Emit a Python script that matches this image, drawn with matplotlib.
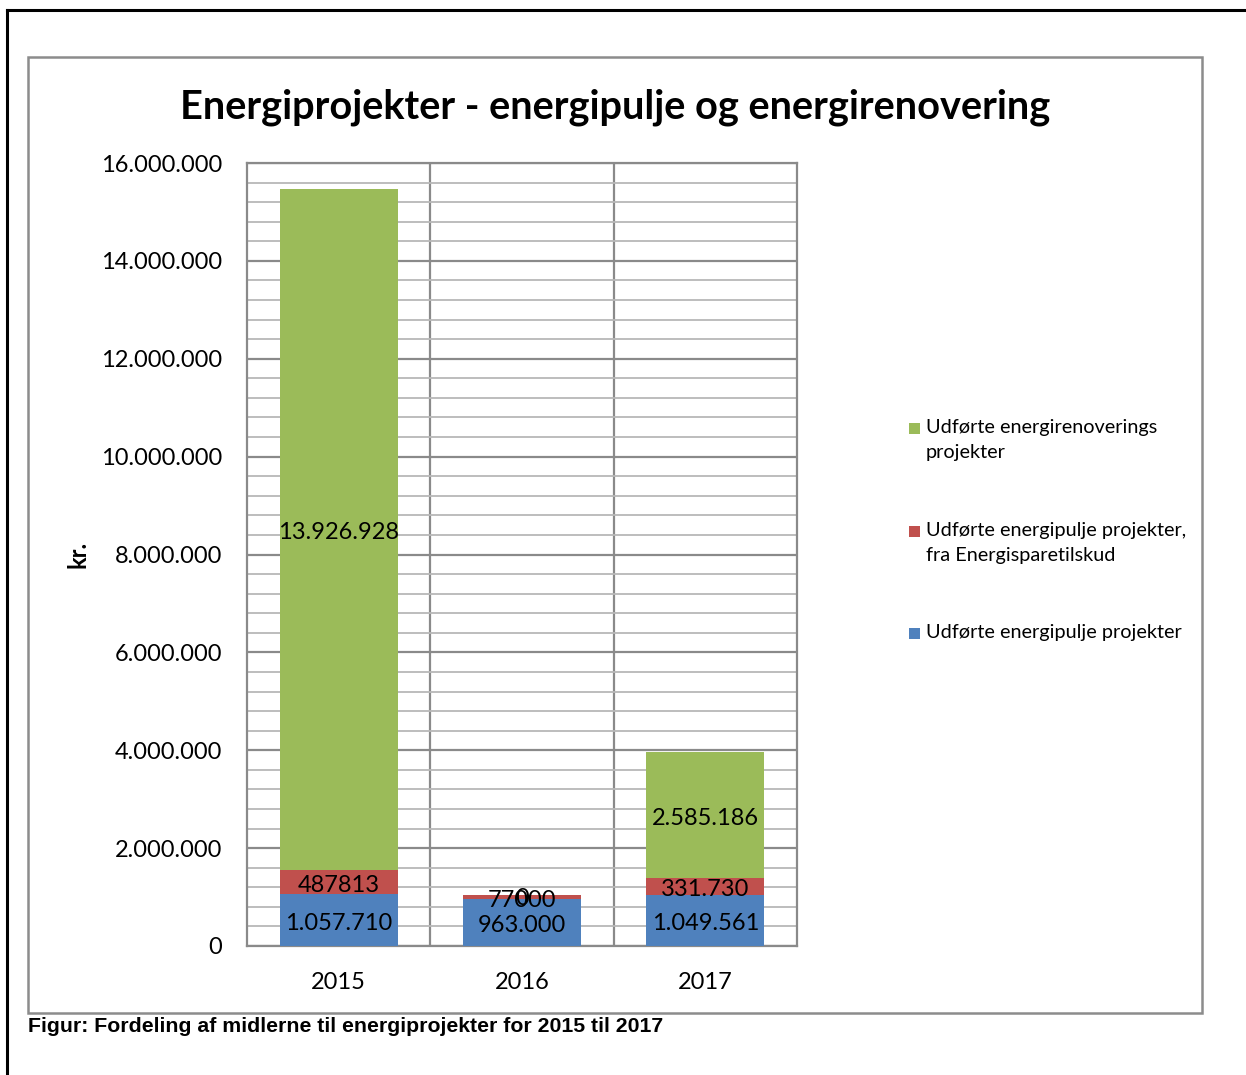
import matplotlib
matplotlib.use("Agg")
import matplotlib.pyplot as plt
from matplotlib.patches import Rectangle
from matplotlib.lines import Line2D
from matplotlib.ticker import MultipleLocator, FuncFormatter

years = ["2015", "2016", "2017"]
energipulje = [1057710, 963000, 1049561]
energisparetilskud = [487813, 77000, 331730]
energirenovering = [13926928, 0, 2585186]
lbl_pulje = ["1.057.710", "963.000", "1.049.561"]
lbl_tilskud = ["487813", "77000", "331.730"]
lbl_renov = ["13.926.928", "0", "2.585.186"]
series_names = ["Udførte energipulje projekter",
                "Udførte energipulje projekter,\nfra Energisparetilskud",
                "Udførte energirenoverings\nprojekter"]
colors = ["#4F81BD", "#C0504D", "#9BBB59"]

FONT = "Lato"
W, H = 1246, 1075
fig = plt.figure(figsize=(W / 100, H / 100), dpi=100)

# outer document lines
fig.add_artist(Line2D([7 / W, 7 / W], [0, 1 - 10 / H], color="black", lw=2.2, transform=fig.transFigure))
fig.add_artist(Line2D([7 / W, 1], [1 - 10 / H, 1 - 10 / H], color="black", lw=2.2, transform=fig.transFigure))
# chart area border
fig.add_artist(Rectangle((28 / W, 1 - 1013 / H), (1202 - 28) / W, (1013 - 57) / H,
                         fill=False, edgecolor="#8c8c8c", lw=1.8, transform=fig.transFigure))

ax = fig.add_axes([247 / W, 1 - 946 / H, (797 - 247) / W, (946 - 163) / H])
x = list(range(len(years)))
bw = 0.645
b1 = ax.bar(x, energipulje, bw, color=colors[0], label=series_names[0], zorder=3)
b2 = ax.bar(x, energisparetilskud, bw, bottom=energipulje, color=colors[1], label=series_names[1], zorder=3)
bottom3 = [a + b for a, b in zip(energipulje, energisparetilskud)]
b3 = ax.bar(x, energirenovering, bw, bottom=bottom3, color=colors[2], label=series_names[2], zorder=3)

for bars, labels in ((b1, lbl_pulje), (b2, lbl_tilskud), (b3, lbl_renov)):
    anns = ax.bar_label(bars, labels=labels, label_type="center", fontsize=17, family=FONT,
                        color="black", zorder=5)
    for a in anns:
        a.xyann = (0, -2.2)

ax.set_xlim(-0.5, 2.5)
ax.set_ylim(0, 16000000)
ax.yaxis.set_major_locator(MultipleLocator(2000000))
ax.yaxis.set_minor_locator(MultipleLocator(400000))
ax.yaxis.set_major_formatter(FuncFormatter(lambda v, p: f"{int(v):,}".replace(",", ".")))
ax.grid(axis="y", which="minor", color="#b8b8b8", lw=1.3, zorder=0)
ax.grid(axis="y", which="major", color="#8a8a8a", lw=1.6, zorder=1)
for xb in (0.5, 1.5):
    ax.axvline(xb, color="#8a8a8a", lw=1.6, zorder=1)
for s in ax.spines.values():
    s.set_color("#8a8a8a")
    s.set_linewidth(1.6)
ax.set_xticks(x)
ax.set_xticklabels(years)
ax.tick_params(axis="both", which="both", length=0, labelsize=17)
ax.tick_params(axis="y", pad=18)
ax.tick_params(axis="x", pad=19)
for t in ax.get_xticklabels() + ax.get_yticklabels():
    t.set_family(FONT)

fig.text(78 / W, 1 - 554 / H, "kr.", rotation=90, ha="center", va="center",
         fontsize=17, fontweight="bold", family=FONT)
fig.text(615 / W, 1 - 107 / H, "Energiprojekter - energipulje og energirenovering",
         ha="center", va="center", fontsize=28.6, fontweight="bold", family=FONT)
fig.text(28 / W, 1 - 1026 / H, "Figur: Fordeling af midlerne til energiprojekter for 2015 til 2017",
         ha="left", va="center", fontsize=15.3, fontweight="bold", family="Liberation Sans")

# legend (reverse order, as in reference)
leg_y = [428, 531, 633]
for name, col, yy in zip(series_names[::-1], colors[::-1], leg_y):
    fig.add_artist(Rectangle((909 / W, 1 - (yy + 6) / H), 11 / W, 11 / H,
                             facecolor=col, edgecolor="none", transform=fig.transFigure))
    fig.text(926 / W, 1 - (yy - 9) / H, name, ha="left", va="top", fontsize=14.3, family=FONT,
             linespacing=1.55, transform=fig.transFigure)

fig.savefig("out.png", dpi=100)
